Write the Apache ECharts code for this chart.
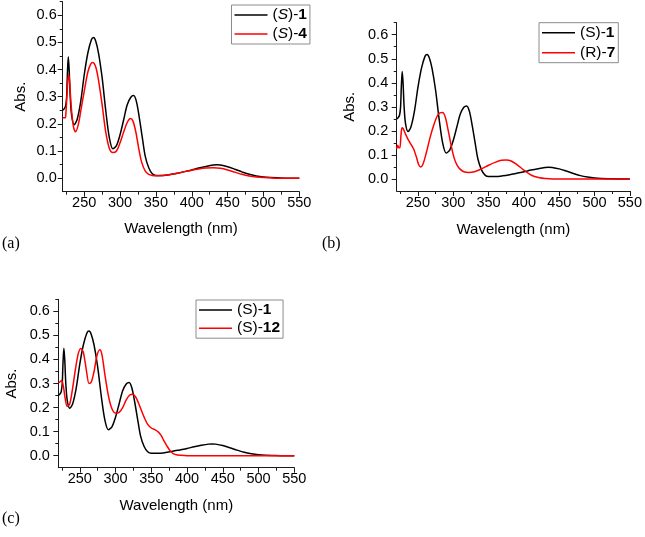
<!DOCTYPE html>
<html>
<head>
<meta charset="utf-8">
<script src="https://cdn.jsdelivr.net/npm/echarts@6/dist/echarts.min.js"></script>
<style>
html,body{margin:0;padding:0;background:#fff;}
#chart{width:645px;height:537px;}
</style>
</head>
<body>
<div id="chart"></div>
<script>
// ---- data (wavelength in nm, absorbance) ----
var wlS1  = [220,222,224,225.5,226.5,227.8,229,230.5,232.5,236,240,245,250,255,260,263,266,270,275,280,285,290,295,300,305,310,315,319,323,327,331,335,340,345,350,360,370,380,390,400,410,420,430,435,440,450,460,470,480,490,500,510,520,535,550];
var absS1 = [0.250,0.255,0.265,0.30,0.38,0.447,0.40,0.30,0.23,0.197,0.215,0.28,0.38,0.46,0.51,0.518,0.505,0.46,0.37,0.25,0.15,0.108,0.12,0.16,0.215,0.27,0.298,0.304,0.28,0.22,0.15,0.082,0.038,0.016,0.010,0.010,0.013,0.018,0.024,0.030,0.037,0.043,0.048,0.049,0.048,0.042,0.033,0.023,0.014,0.008,0.004,0.002,0.001,0,0];

var wlS4  = [220,223.5,224.5,226,227.5,228.6,230,232,235,238,242,246,250,255,259,262,266,270,275,280,285,290,295,300,305,310,314.5,318,322,326,330,335,340,345,350,360,370,380,390,400,410,420,430,440,450,460,470,480,490,500,510,520,550];
var absS4 = [0.222,0.222,0.24,0.31,0.37,0.38,0.34,0.26,0.19,0.171,0.20,0.26,0.32,0.39,0.42,0.426,0.41,0.36,0.27,0.17,0.11,0.094,0.10,0.13,0.17,0.205,0.22,0.21,0.17,0.11,0.06,0.027,0.014,0.010,0.009,0.010,0.013,0.018,0.024,0.029,0.034,0.037,0.038,0.036,0.030,0.022,0.014,0.008,0.004,0.002,0.001,0,0];

var wlR7  = [220,221.5,223,224.5,226,227.5,229,232,236,240,244,248,251,254,257,262,267,272,277,281,285,289,293,297,301,305,310,315,322,330,340,350,360,368,375,382,390,400,408,415,422,430,440,550];
var absR7 = [0.125,0.14,0.13,0.13,0.18,0.213,0.21,0.19,0.165,0.145,0.125,0.09,0.06,0.05,0.06,0.11,0.17,0.22,0.26,0.275,0.276,0.255,0.20,0.14,0.09,0.06,0.04,0.03,0.027,0.03,0.042,0.057,0.07,0.078,0.079,0.075,0.06,0.037,0.02,0.01,0.005,0.002,0,0];

var wlS12  = [220,222,224.5,227,229.5,232.5,236,240,244,248,251.5,255,259,263,266,270,274,278,281,285,290,295,300,305,310,315,320,324,328,332,336,340,345,350,355,360,364,368,372,376,380,385,390,400,550];
var absS12 = [0.305,0.306,0.312,0.29,0.24,0.205,0.215,0.28,0.36,0.425,0.446,0.43,0.36,0.30,0.305,0.35,0.415,0.44,0.42,0.34,0.25,0.195,0.177,0.18,0.20,0.232,0.252,0.255,0.245,0.22,0.19,0.16,0.13,0.115,0.108,0.098,0.083,0.06,0.04,0.022,0.01,0.004,0.002,0,0];

var xMajor = [250,300,350,400,450,500,550];
var xMinor = [225,275,325,375,425,475,525];
var yMajor = [0,0.1,0.2,0.3,0.4,0.5,0.6];
var yMinor = [0.05,0.15,0.25,0.35,0.45,0.55,0.65];

var legendA = ['(S)-1', '(S)-4'];
var legendB = ['(S)-1', '(R)-7'];
var legendC = ['(S)-1', '(S)-12'];
var panelLabels = ['(a)', '(b)', '(c)'];

// ---- helpers ----
function pairs(xs, ys){ return xs.map(function(x,i){ return [x, ys[i]]; }); }
var FONT = 'Liberation Sans, Arial, sans-serif';
var AX = '#1a1a1a';

function mainX(grid, nameGap){
  return {type:'value', gridIndex:grid, position:'bottom', min:220, max:550,
    name:'Wavelength (nm)', nameLocation:'middle', nameGap:nameGap,
    nameTextStyle:{fontFamily:FONT, fontSize:15, color:'#000'},
    axisLine:{onZero:false, lineStyle:{color:AX, width:1}},
    axisTick:{show:true, inside:false, length:5, customValues:xMajor, lineStyle:{color:AX}},
    axisLabel:{customValues:xMajor, margin:4, fontFamily:FONT, fontSize:14.5, color:'#000'},
    splitLine:{show:false}};
}
function minorX(grid){
  return {type:'value', gridIndex:grid, position:'bottom', min:220, max:550,
    axisLine:{show:false, onZero:false},
    axisTick:{show:true, inside:false, length:3, customValues:xMinor, lineStyle:{color:AX}},
    axisLabel:{show:false}, splitLine:{show:false}};
}
function mainY(grid, nameGap, margin){
  return {type:'value', gridIndex:grid, position:'left', min:-0.05, max:0.65,
    name:'Abs.', nameLocation:'middle', nameGap:nameGap, nameRotate:90,
    nameTextStyle:{fontFamily:FONT, fontSize:15, color:'#000'},
    axisLine:{show:true, onZero:false, lineStyle:{color:AX, width:1}},
    axisTick:{show:true, inside:false, length:5, customValues:yMajor, lineStyle:{color:AX}},
    axisLabel:{customValues:yMajor, margin:margin, fontFamily:FONT, fontSize:14.5, color:'#000',
      formatter:function(v){ return v.toFixed(1); }},
    splitLine:{show:false}};
}
function minorY(grid){
  return {type:'value', gridIndex:grid, position:'left', min:-0.05, max:0.65,
    axisLine:{show:false, onZero:false},
    axisTick:{show:true, inside:false, length:3, customValues:yMinor, lineStyle:{color:AX}},
    axisLabel:{show:false}, splitLine:{show:false}};
}
function line(name, xi, yi, data, color){
  return {type:'line', name:name, xAxisIndex:xi, yAxisIndex:yi, data:data,
    showSymbol:false, symbol:'none', smooth:0.3, clip:true,
    lineStyle:{color:color, width:1.5}, itemStyle:{color:color}};
}

var LF = 15.5;
var richTxt = {
  n:{fontFamily:FONT, fontSize:LF, color:'#000'},
  i:{fontFamily:FONT, fontSize:LF, color:'#000', fontStyle:'italic'},
  b:{fontFamily:FONT, fontSize:LF, color:'#000', fontWeight:'bold'}
};
function fmtLabel(label, italic){
  var m = label.match(/^\((.)\)-(.*)$/);
  return '{n|(}{' + (italic ? 'i' : 'n') + '|' + m[1] + '}{n|)-}{b|' + m[2] + '}';
}
var labelMap = {
  a1:fmtLabel(legendA[0], true), a4:fmtLabel(legendA[1], true),
  b1:fmtLabel(legendB[0], false), b7:fmtLabel(legendB[1], false),
  c1:fmtLabel(legendC[0], false), c12:fmtLabel(legendC[1], false)
};
function legend(names, left, top, gap){
  return {data:names, orient:'vertical', left:left, top:top, itemWidth:33, itemHeight:1.6,
    icon:'rect', itemGap:gap, padding:[2,3,2,3], borderColor:'#8c8c8c', borderWidth:1,
    backgroundColor:'#fff', selectedMode:false,
    formatter:function(n){ return labelMap[n]; },
    textStyle:{fontFamily:FONT, fontSize:LF, color:'#000', rich:richTxt}};
}

var chart = echarts.init(document.getElementById('chart'), null, {renderer:'canvas'});
chart.setOption({
  animation:false,
  backgroundColor:'#fff',
  grid:[
    {left:62.7, top:1.7, width:236.6, height:190},
    {left:396.7, top:22.7, width:235, height:168.3},
    {left:58.3, top:299.3, width:236, height:168.4}
  ],
  xAxis:[mainX(0,30), minorX(0), mainX(1,31), minorX(1), mainX(2,30.5), minorX(2)],
  yAxis:[mainY(0,34,6), minorY(0), mainY(1,39,8.5), minorY(1), mainY(2,39,8.5), minorY(2)],
  legend:[
    legend(['a1','a4'], 231.5, 5, 3),
    legend(['b1','b7'], 539, 22.7, 4),
    legend(['c1','c12'], 196, 300, 2.2)
  ],
  series:[
    line('a1',0,0,pairs(wlS1,absS1),'#000000'),
    line('a4',0,0,pairs(wlS4,absS4),'#ff0000'),
    line('b1',2,2,pairs(wlS1,absS1),'#000000'),
    line('b7',2,2,pairs(wlR7,absR7),'#ff0000'),
    line('c1',4,4,pairs(wlS1,absS1),'#000000'),
    line('c12',4,4,pairs(wlS12,absS12),'#ff0000')
  ],
  graphic:[
    {type:'text', left:2, top:236, style:{text:panelLabels[0], font:'16px "Liberation Serif", serif', fill:'#000'}},
    {type:'text', left:322, top:236, style:{text:panelLabels[1], font:'16px "Liberation Serif", serif', fill:'#000'}},
    {type:'text', left:2, top:511, style:{text:panelLabels[2], font:'16px "Liberation Serif", serif', fill:'#000'}}
  ]
});
</script>
</body>
</html>
